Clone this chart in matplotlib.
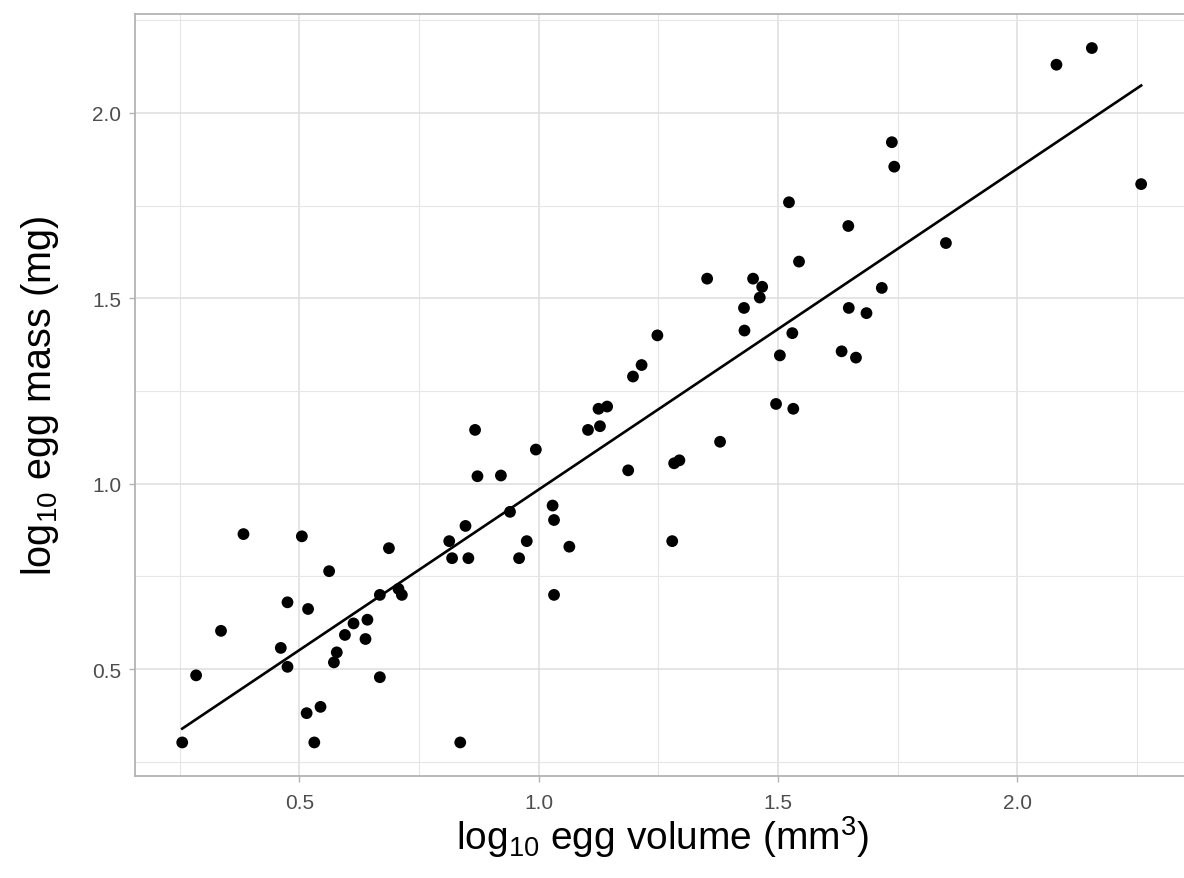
import numpy as np
import matplotlib
matplotlib.use("Agg")
import matplotlib.pyplot as plt
from matplotlib.ticker import MultipleLocator

# log10 egg volume (mm^3) and log10 egg mass (mg)
log_volume = [
    0.383, 0.505, 0.687, 0.562, 0.475, 0.518, 0.668, 0.707, 0.714, 0.336,
    0.613, 0.642, 0.595, 0.638, 0.461, 0.578, 0.572, 0.475, 0.284, 0.668,
    0.544, 0.515, 0.255, 0.531, 0.867, 0.994, 0.872, 0.921, 0.940, 1.029,
    1.032, 0.847, 0.813, 0.975, 1.064, 0.819, 0.853, 0.959, 1.032, 0.836,
    1.125, 1.143, 1.103, 1.128, 1.248, 1.215, 1.197, 1.283, 1.294, 1.187,
    1.279, 1.738, 1.743, 1.523, 1.647, 1.851, 1.544, 1.352, 1.448, 1.467,
    1.462, 1.717, 1.429, 1.648, 1.685, 1.430, 1.530, 1.504, 1.633, 1.663,
    1.496, 1.532, 1.379, 2.082, 2.156, 2.259,
]
log_mass = [
    0.864, 0.858, 0.826, 0.764, 0.680, 0.662, 0.700, 0.716, 0.700, 0.603,
    0.623, 0.633, 0.592, 0.581, 0.557, 0.545, 0.518, 0.506, 0.483, 0.478,
    0.398, 0.381, 0.302, 0.302, 1.145, 1.092, 1.020, 1.022, 0.924, 0.941,
    0.902, 0.886, 0.845, 0.845, 0.830, 0.799, 0.799, 0.799, 0.700, 0.302,
    1.202, 1.208, 1.145, 1.155, 1.400, 1.320, 1.289, 1.055, 1.063, 1.036,
    0.845, 1.921, 1.855, 1.759, 1.695, 1.649, 1.599, 1.553, 1.553, 1.531,
    1.502, 1.528, 1.474, 1.474, 1.460, 1.413, 1.406, 1.346, 1.357, 1.340,
    1.215, 1.202, 1.113, 2.130, 2.175, 1.808,
]

x = np.array(log_volume)
y = np.array(log_mass)

plt.rcParams["font.family"] = ["Liberation Sans", "DejaVu Sans"]
plt.rcParams["mathtext.fontset"] = "custom"
plt.rcParams["mathtext.rm"] = "Liberation Sans"
plt.rcParams["mathtext.it"] = "Liberation Sans:italic"

fig = plt.figure(figsize=(11.84, 8.79), dpi=100)
# panel runs past the right edge of the picture, like the reference
ax = fig.add_axes([135 / 1184, 101.7 / 879, 1054 / 1184, 762 / 879])

# linear fit
slope, intercept = np.polyfit(x, y, 1)
xs = np.array([x.min(), x.max()])
ax.plot(xs, intercept + slope * xs, color="black", lw=1.9, zorder=3)
ax.scatter(x, y, s=72, color="black", edgecolors="none", zorder=4)

ax.set_xlim(0.1563, 2.359)
ax.set_ylim(0.2107, 2.266)

ax.xaxis.set_major_locator(MultipleLocator(0.5))
ax.yaxis.set_major_locator(MultipleLocator(0.5))
ax.xaxis.set_minor_locator(MultipleLocator(0.25))
ax.yaxis.set_minor_locator(MultipleLocator(0.25))
ax.xaxis.set_major_formatter(matplotlib.ticker.FormatStrFormatter("%.1f"))
ax.yaxis.set_major_formatter(matplotlib.ticker.FormatStrFormatter("%.1f"))

ax.grid(which="major", color="#DEDEDE", lw=1.1)
ax.grid(which="minor", color="#E6E6E6", lw=0.8)
ax.set_axisbelow(True)

for sp in ax.spines.values():
    sp.set_color("#B3B3B3")
    sp.set_linewidth(1.3)

ax.tick_params(which="major", length=4, width=1, color="#B3B3B3",
               labelcolor="#4D4D4D", labelsize=15)
ax.tick_params(axis="x", which="major", pad=8)
ax.tick_params(axis="y", which="major", pad=6)
ax.tick_params(which="minor", length=0)

ax.set_xlabel(r"log$_{10}$ egg volume (mm$^3$)", fontsize=28, labelpad=1)
ax.set_ylabel(r"log$_{10}$ egg mass (mg)", fontsize=28.5, labelpad=22)

fig.savefig("out.png", dpi=100)
print("fit:", slope, intercept)
